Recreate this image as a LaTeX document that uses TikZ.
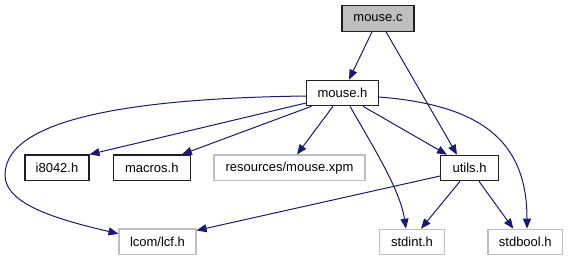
\documentclass[tikz,border=0pt]{standalone}
\usepackage{fontspec}
\setmainfont{Liberation Sans}
\usetikzlibrary{arrows.meta,calc}
\definecolor{edgeblue}{HTML}{191970}
\definecolor{lightframe}{HTML}{BFBFBF}
\definecolor{darkframe}{HTML}{202020}
\begin{document}
\begin{tikzpicture}[x=1bp,y=-1bp,
  hdr/.style={draw=darkframe,line width=1.1bp,minimum height=25.5bp,inner sep=0pt,
    font=\fontsize{13bp}{15bp}\selectfont},
  extfile/.style={hdr,draw=lightframe},
  rootfile/.style={hdr,fill=lightframe},
  dep/.style={draw=edgeblue,line width=1bp,-{Triangle[length=10bp,width=8bp]}}]
\useasboundingbox (0,0) rectangle (568,261);

% nodes
\node[rootfile,minimum width=72bp] (mc) at (378,18.5) {mouse.c};
\node[hdr,minimum width=72bp] (mh) at (342.5,93) {mouse.h};
\node[hdr,minimum width=64bp] (i8) at (57,167.75) {i8042.h};
\node[hdr,minimum width=77bp] (mac) at (151.8,167.75) {macros.h};
\node[extfile,minimum width=151bp] (xpm) at (289.5,167.75) {resources/mouse.xpm};
\node[hdr,minimum width=57.6bp] (ut) at (469.5,168) {utils.h};
\node[extfile,minimum width=77bp] (lcf) at (157.5,241.75) {lcom/lcf.h};
\node[extfile,minimum width=65.7bp] (sint) at (412,242) {stdint.h};
\node[extfile,minimum width=74.7bp] (sbool) at (525.3,242) {stdbool.h};

% includes of mouse.c
\draw[dep] ($(mc.south)+(-6,0)$) -- ($(mh.north)+(6.5,0)$);
\draw[dep] ($(mc.south)+(8,0)$) -- ($(ut.north)+(-12.5,0)$);

% includes of mouse.h
\draw[dep] ($(mh.west)+(0,10)$) -- (i8.north east);
\draw[dep] ($(mh.south west)+(5.5,0)$) -- ($(mac.north)+(30,0)$);
\draw[dep] ($(mh.south)+(-9.5,0)$) -- ($(xpm.north)+(7.5,0)$);
\draw[dep] ($(mh.south)+(7.5,0)$) .. controls (375,150) and (400,190) .. ($(sint.north)+(-6,0)$);
\draw[dep] ($(mh.south)+(20.5,0)$) -- ($(ut.north)+(-22.5,0)$);
\draw[dep] ($(mh.east)+(0,4)$) .. controls (480,105) and (527,140) .. ($(sbool.north)+(1.7,0)$);
\draw[dep] ($(mh.west)+(0,3)$) .. controls (150,98) and (5,115) .. (5,175)
  .. controls (5,205) and (60,220) .. ($(lcf.west)+(0,-8)$);

% includes of utils.h
\draw[dep] ($(ut.west)+(0,8)$) -- ($(lcf.north east)+(0,2)$);
\draw[dep] ($(ut.south)+(-9.5,0)$) -- ($(sint.north)+(9,0)$);
\draw[dep] ($(ut.south)+(9.5,0)$) -- ($(sbool.north)+(-12,0)$);
\end{tikzpicture}
\end{document}
